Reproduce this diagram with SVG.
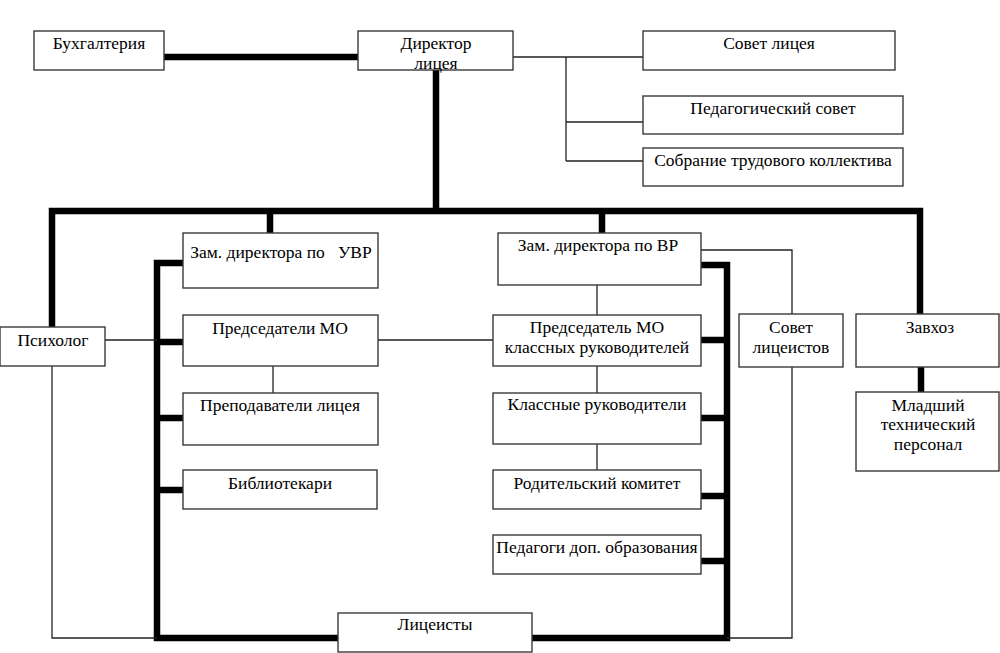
<svg xmlns="http://www.w3.org/2000/svg" width="1000" height="653" viewBox="0 0 1000 653">
<style>
.box{fill:#fff;stroke:#3a3a3a;stroke-width:1.4}
.t{font-family:'Liberation Serif','DejaVu Serif',serif;font-size:17.5px;fill:#000;text-anchor:middle;white-space:pre}
.thick{fill:none;stroke:#000;stroke-width:6.5;stroke-linecap:square}
.thin{fill:none;stroke:#222;stroke-width:1.3}
</style>
<rect width="1000" height="653" fill="#fff"/>
<g id="connectors">
<path class="thick" d="M164 57H358M436 70V211M52 211H920M52 211V327M920 211V314M270 211V233M602 211V233"/>
<path class="thick" d="M183 263H157V638H338M157 342H183M157 418H183M157 490H183"/>
<path class="thick" d="M701 265H727V638H532M701 340H727M701 418H727M701 496H727M701 561H727"/>
<path class="thick" d="M921 367V392"/>
<path class="thin" d="M513 57H643M566 57V161M566 122H643M566 161H643"/>
<path class="thin" d="M105 340H157M52 366V638H157M378 340H493M273 366V393"/>
<path class="thin" d="M597 285V315M597 366V393M597 444V470M701 250H792V314M792 367V638H727"/>
</g>
<g id="buh"><rect class="box" x="34" y="31" width="130" height="39"/><text class="t" x="99" y="49">Бухгалтерия</text></g>
<g id="director"><rect class="box" x="358" y="31" width="155" height="39"/><text class="t" x="436" y="49">Директор</text><text class="t" x="436" y="69">лицея</text></g>
<g id="sovet"><rect class="box" x="643" y="31" width="252" height="39"/><text class="t" x="769" y="49">Совет лицея</text></g>
<g id="pedsovet"><rect class="box" x="643" y="96" width="260" height="38"/><text class="t" x="773" y="114">Педагогический совет</text></g>
<g id="sobranie"><rect class="box" x="643" y="148" width="260" height="38"/><text class="t" x="773" y="166">Собрание трудового коллектива</text></g>
<g id="psych"><rect class="box" x="0" y="327" width="105" height="39"/><text class="t" x="53" y="346">Психолог</text></g>
<g id="zam-uvr"><rect class="box" x="183" y="233" width="195" height="55"/><text class="t" x="281" y="258">Зам. директора по   УВР</text></g>
<g id="pred-mo"><rect class="box" x="183" y="315" width="195" height="51"/><text class="t" x="280" y="334">Председатели МО</text></g>
<g id="prepod"><rect class="box" x="183" y="393" width="195" height="52"/><text class="t" x="280" y="411">Преподаватели лицея</text></g>
<g id="biblio"><rect class="box" x="183" y="470" width="194" height="39"/><text class="t" x="280" y="489">Библиотекари</text></g>
<g id="liceisty"><rect class="box" x="338" y="613" width="194" height="39"/><text class="t" x="435" y="630">Лицеисты</text></g>
<g id="zam-vr"><rect class="box" x="498" y="233" width="203" height="52"/><text class="t" x="598" y="251">Зам. директора по ВР</text></g>
<g id="pred-mo-kl"><rect class="box" x="493" y="315" width="208" height="51"/><text class="t" x="597" y="333">Председатель МО</text><text class="t" x="597" y="353">классных руководителей</text></g>
<g id="klassnye"><rect class="box" x="493" y="393" width="208" height="51"/><text class="t" x="597" y="410">Классные руководители</text></g>
<g id="roditel"><rect class="box" x="493" y="470" width="208" height="39"/><text class="t" x="597" y="489">Родительский комитет</text></g>
<g id="pedagogi"><rect class="box" x="493" y="535" width="208" height="39"/><text class="t" x="597" y="553">Педагоги доп. образования</text></g>
<g id="sovet-lic"><rect class="box" x="739" y="314" width="104" height="53"/><text class="t" x="791" y="333">Совет</text><text class="t" x="791" y="353">лицеистов</text></g>
<g id="zavhoz"><rect class="box" x="856" y="314" width="143" height="53"/><text class="t" x="930" y="333">Завхоз</text></g>
<g id="mladshiy"><rect class="box" x="856" y="392" width="143" height="79"/><text class="t" x="928" y="411">Младший</text><text class="t" x="928" y="430">технический</text><text class="t" x="928" y="450">персонал</text></g>
</svg>
